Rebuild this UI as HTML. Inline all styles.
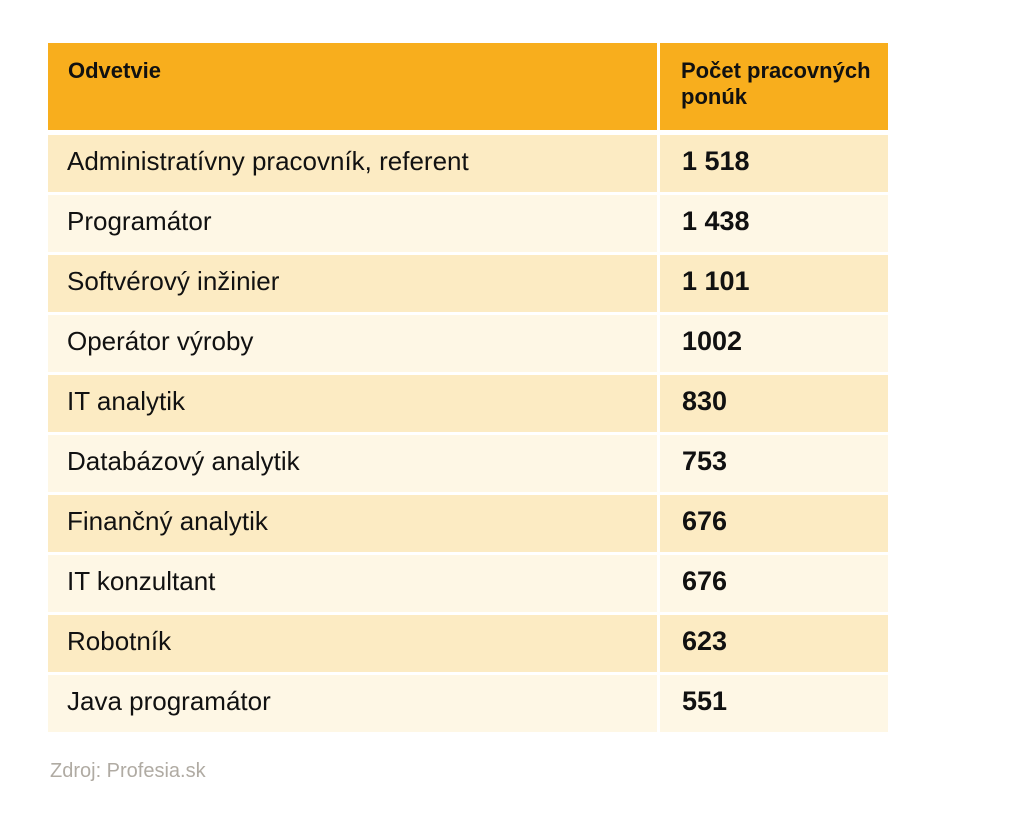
<!DOCTYPE html>
<html><head><meta charset="utf-8"><style>
body{margin:0;width:1024px;height:815px;background:#fff;font-family:"Liberation Sans",sans-serif;position:relative;overflow:hidden}
.c{position:absolute;box-sizing:border-box;color:#111}
.h{background:#F8AE1D;font-weight:bold;font-size:22px;padding:15px 0 0 20px;line-height:26px}
.r{font-size:26px;line-height:52px;padding-left:19px}
.n{font-weight:bold;padding-left:22px;font-size:27px}
.o{background:#FCEBC3}.e{background:#FEF7E5}
</style></head><body>
<div class="c h" style="left:48px;top:43px;width:609px;height:87px">Odvetvie</div>
<div class="c h" style="left:660px;top:43px;width:228px;height:87px;padding-left:21px">Počet pracovných<br>ponúk</div>
<div class="c r o" style="left:48px;top:135px;width:609px;height:57px">Administratívny pracovník, referent</div><div class="c r n o" style="left:660px;top:135px;width:228px;height:57px">1 518</div>
<div class="c r e" style="left:48px;top:195px;width:609px;height:57px">Programátor</div><div class="c r n e" style="left:660px;top:195px;width:228px;height:57px">1 438</div>
<div class="c r o" style="left:48px;top:255px;width:609px;height:57px">Softvérový inžinier</div><div class="c r n o" style="left:660px;top:255px;width:228px;height:57px">1 101</div>
<div class="c r e" style="left:48px;top:315px;width:609px;height:57px">Operátor výroby</div><div class="c r n e" style="left:660px;top:315px;width:228px;height:57px">1002</div>
<div class="c r o" style="left:48px;top:375px;width:609px;height:57px">IT analytik</div><div class="c r n o" style="left:660px;top:375px;width:228px;height:57px">830</div>
<div class="c r e" style="left:48px;top:435px;width:609px;height:57px">Databázový analytik</div><div class="c r n e" style="left:660px;top:435px;width:228px;height:57px">753</div>
<div class="c r o" style="left:48px;top:495px;width:609px;height:57px">Finančný analytik</div><div class="c r n o" style="left:660px;top:495px;width:228px;height:57px">676</div>
<div class="c r e" style="left:48px;top:555px;width:609px;height:57px">IT konzultant</div><div class="c r n e" style="left:660px;top:555px;width:228px;height:57px">676</div>
<div class="c r o" style="left:48px;top:615px;width:609px;height:57px">Robotník</div><div class="c r n o" style="left:660px;top:615px;width:228px;height:57px">623</div>
<div class="c r e" style="left:48px;top:675px;width:609px;height:57px">Java programátor</div><div class="c r n e" style="left:660px;top:675px;width:228px;height:57px">551</div>
<div class="c" style="left:50px;top:760px;font-size:20px;color:#b0aba3">Zdroj: Profesia.sk</div>
</body></html>
